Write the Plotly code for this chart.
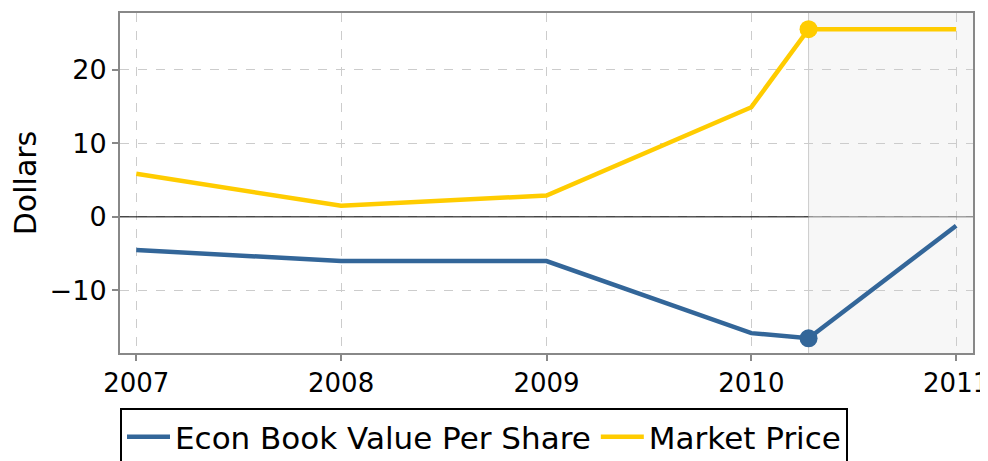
import plotly.graph_objects as go

dates = ["2007-01-01", "2008-01-01", "2009-01-01", "2010-01-01", "2010-04-13", "2011-01-01"]
book_value = [-4.5, -6.0, -6.0, -15.8, -16.5, -1.2]
market_price = [5.85, 1.5, 2.9, 14.9, 25.5, 25.5]
marker_date = "2010-04-13"
marker_book = -16.5
marker_price = 25.5
x_range = ["2006-12-03", "2011-01-31"]
y_range = [-18.5, 27.7]

BLUE = "#336699"
YELLOW = "#FFCC00"
FONT = "DejaVu Sans"

fig = go.Figure()
fig.add_scatter(x=dates, y=book_value, mode="lines", name="Econ Book Value Per Share",
                line=dict(color=BLUE, width=4.5))
fig.add_scatter(x=dates, y=market_price, mode="lines", name="Market Price",
                line=dict(color=YELLOW, width=4.5))
fig.add_scatter(x=[marker_date], y=[marker_book], mode="markers", showlegend=False,
                marker=dict(color=BLUE, size=18))
fig.add_scatter(x=[marker_date], y=[marker_price], mode="markers", showlegend=False,
                marker=dict(color=YELLOW, size=18))

# shaded forecast region and zero line
fig.add_shape(type="rect", xref="x", yref="paper", x0=marker_date, x1=x_range[1], y0=0, y1=1,
              fillcolor="#f7f7f7", line_width=0, layer="below")
fig.add_shape(type="line", xref="x", yref="paper", x0=marker_date, x1=marker_date, y0=0, y1=1,
              line=dict(color="#cccccc", width=1), layer="between")
fig.add_shape(type="line", xref="x", yref="y", x0=x_range[0], x1=marker_date, y0=0, y1=0,
              line=dict(color="black", width=1), layer="between")
fig.add_shape(type="line", xref="x", yref="y", x0=marker_date, x1=x_range[1], y0=0, y1=0,
              line=dict(color="#777777", width=1), layer="between")

fig.update_xaxes(range=x_range, tickformat="%Y", dtick="M12", tick0="2007-01-01",
                 showgrid=True, gridcolor="#cccccc", griddash="dash", gridwidth=1,
                 showline=True, linecolor="#888888", linewidth=2, mirror=True,
                 ticks="outside", tickcolor="#888888", ticklen=6, tickwidth=2,
                 tickfont=dict(size=26, color="black"), zeroline=False, automargin=False,
                 ticklabeloverflow="allow")
fig.update_yaxes(range=y_range, tickvals=[-10, 0, 10, 20],
                 showgrid=True, gridcolor="#cccccc", griddash="dash", gridwidth=1,
                 showline=True, linecolor="#888888", linewidth=2, mirror=True,
                 ticks="outside", tickcolor="#888888", ticklen=6, tickwidth=2,
                 tickfont=dict(size=27, color="black"), zeroline=False, automargin=False,
                 title=dict(text="Dollars", font=dict(size=30, color="black"), standoff=5))

# page body adds an 8px offset, so the figure is sized to end at the window edge
fig.update_layout(
    width=980, height=453,
    font=dict(family=FONT, color="black"),
    plot_bgcolor="white", paper_bgcolor="white",
    margin=dict(l=112, r=15, t=5, b=108, autoexpand=False),
    showlegend=True,
    legend=dict(orientation="h", x=0, xanchor="left", y=-0.162, yanchor="top",
                bordercolor="black", borderwidth=2, font=dict(size=31, color="black"),
                bgcolor="white", itemwidth=43),
)

fig.write_html("out.html")
